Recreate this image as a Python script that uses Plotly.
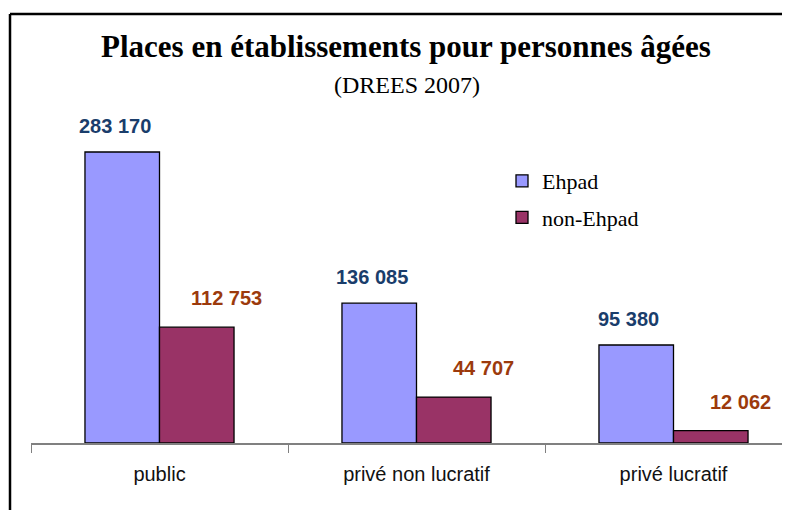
import plotly.graph_objects as go

categories = ["public", "privé non lucratif", "privé lucratif"]
ehpad = [283170, 136085, 95380]
non_ehpad = [112753, 44707, 12062]
series_names = ["Ehpad", "non-Ehpad"]

def fmt(v):
    return f"{v:,}".replace(",", " ")

OFF = 8  # page body margin
W, H = 790 - OFF, 510 - OFF
# reference-pixel layout
plot_left, plot_right, plot_top, plot_bottom = 31, 790, 100, 443
ML = plot_left - OFF
MR = 0
MT = plot_top - OFF
MB = H - (plot_bottom - OFF)
plot_h = plot_bottom - plot_top
plot_w = plot_right - plot_left
px_per_unit = 291 / 283170
ymax = plot_h / px_per_unit
cat_px = 257
xmax = -0.5 + plot_w / cat_px

def px(x):
    return (x - plot_left) / plot_w

def py(y):
    return (plot_bottom - y) / plot_h

fig = go.Figure()
fig.add_trace(go.Bar(x=categories, y=ehpad, name=series_names[0],
                     marker=dict(color="#9999FF", line=dict(color="black", width=1.3)),
                     legendgroup="a"))
fig.add_trace(go.Bar(x=categories, y=non_ehpad, name=series_names[1],
                     marker=dict(color="#993366", line=dict(color="black", width=1.3)),
                     legendgroup="b"))

ann = []
for c, v in zip(categories, ehpad):
    ann.append(dict(x=c, y=v, xref="x", yref="y", text="<b>" + fmt(v) + "</b>", showarrow=False,
                    xshift=-45, yshift=26, yanchor="middle",
                    font=dict(family="Liberation Sans, Arial", size=20, color="#1A3D6B")))
for c, v in zip(categories, non_ehpad):
    ann.append(dict(x=c, y=v, xref="x", yref="y", text="<b>" + fmt(v) + "</b>", showarrow=False,
                    xshift=67, yshift=29, yanchor="middle",
                    font=dict(family="Liberation Sans, Arial", size=20, color="#9C3A0C")))

ann.append(dict(x=px(406), y=py(47), xref="paper", yref="paper",
                text="<b>Places en établissements pour personnes âgées</b>",
                showarrow=False, yanchor="middle",
                font=dict(family="Liberation Serif, Times New Roman", size=31, color="black")))
ann.append(dict(x=px(407), y=py(85), xref="paper", yref="paper", text="(DREES 2007)",
                showarrow=False, yanchor="middle",
                font=dict(family="Liberation Serif, Times New Roman", size=24, color="black")))

fig.update_layout(
    width=W, height=H,
    margin=dict(l=ML, r=MR, t=MT, b=MB, pad=0),
    paper_bgcolor="white", plot_bgcolor="white",
    barmode="group", bargap=0.42, bargroupgap=0,
    showlegend=True,
    legend=dict(x=px(502), y=py(160), xanchor="left", yanchor="top",
                font=dict(family="Liberation Serif, Times New Roman", size=22, color="black"),
                tracegroupgap=5, bgcolor="rgba(0,0,0,0)"),
    xaxis=dict(range=[-0.5, xmax], showline=True, linecolor="#808080", linewidth=1.5,
               ticks="outside", tickson="boundaries", ticklen=8, tickcolor="#808080",
               ticklabelstandoff=12,
               tickfont=dict(family="Liberation Sans, Arial", size=20, color="#111"),
               showgrid=False, fixedrange=True),
    yaxis=dict(range=[0, ymax], visible=False, showgrid=False),
    annotations=ann,
    font=dict(family="Liberation Sans, Arial"),
)

fig.add_shape(type="line", xref="paper", yref="paper",
              x0=px(10), x1=1.05, y0=py(14), y1=py(14),
              line=dict(color="black", width=2.5))
fig.add_shape(type="line", xref="paper", yref="paper",
              x0=px(10), x1=px(10), y0=py(14), y1=py(530),
              line=dict(color="black", width=2.5))

fig.write_html("out.html")
